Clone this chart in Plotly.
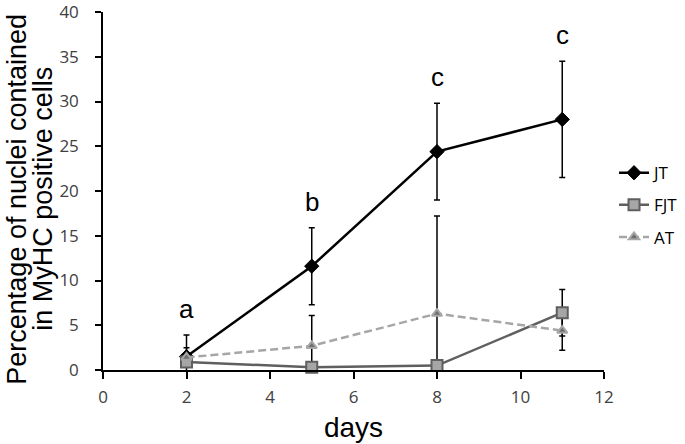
import plotly.graph_objects as go

days = [2, 5, 8, 11]
jt = [1.5, 11.6, 24.4, 28.0]
jt_err = [1.0, 4.3, 5.4, 6.5]
fjt = [0.9, 0.3, 0.5, 6.4]
fjt_err = [0.3, 0.2, 0.3, 2.6]
at = [1.4, 2.7, 6.3, 4.4]
at_err = [2.5, 3.4, 10.9, 2.2]
letters = ["a", "b", "c", "c"]

x_ticks = [0, 2, 4, 6, 8, 10, 12]
y_ticks = [0, 5, 10, 15, 20, 25, 30, 35, 40]

series = [
    dict(name="JT", y=jt, err=jt_err, line=dict(color="#000000", width=2.5),
         marker=dict(symbol="diamond", size=11, color="#000000",
                     line=dict(color="#000000", width=1))),
    dict(name="FJT", y=fjt, err=fjt_err, line=dict(color="#5f5f5f", width=2.5),
         marker=dict(symbol="square", size=11, color="#a6a6a6",
                     line=dict(color="#5f5f5f", width=2))),
    dict(name="AT", y=at, err=at_err, line=dict(color="#a6a6a6", width=2.5, dash="8px,4px"),
         marker=dict(symbol="triangle-up", size=9, color="#6f6f6f",
                     line=dict(color="#a6a6a6", width=2))),
]

fig = go.Figure()

# error bars (clipped to plot area)
for s in series:
    fig.add_trace(go.Scatter(
        x=days, y=s["y"], mode="markers",
        marker=dict(size=1, opacity=0),
        error_y=dict(type="data", array=s["err"], visible=True,
                     color="#000000", thickness=1.5, width=3),
        showlegend=False, hoverinfo="skip", cliponaxis=True,
    ))

for i, s in enumerate(series):
    fig.add_trace(go.Scatter(
        x=days, y=s["y"], mode="lines+markers", name=s["name"],
        line=s["line"], marker=s["marker"], cliponaxis=False,
        legendgroup=s["name"],
    ))

# significance letters above the highest error bar of each day
for i, d in enumerate(days):
    top = max(s["y"][i] + s["err"][i] for s in series)
    fig.add_annotation(x=d, y=top, xref="x", yref="y", text=letters[i],
                       showarrow=False, yanchor="middle", yshift=26,
                       font=dict(family="Liberation Sans", size=26, color="#000000"))

# y-axis title as two rotated lines
fig.add_annotation(x=-0.172, y=0.478, xref="paper", yref="paper",
                   text="Percentage of nuclei contained", textangle=-90,
                   showarrow=False, xanchor="center", yanchor="middle",
                   font=dict(family="Liberation Sans", size=27, color="#000000"))
fig.add_annotation(x=-0.120, y=0.478, xref="paper", yref="paper",
                   text="in MyHC positive cells", textangle=-90,
                   showarrow=False, xanchor="center", yanchor="middle",
                   font=dict(family="Liberation Sans", size=27, color="#000000"))

tickfont = dict(family="Open Sans", size=17, color="#404040")

fig.update_layout(
    width=685, height=444,
    margin=dict(l=103, r=81, t=12, b=74, autoexpand=False),
    paper_bgcolor="white", plot_bgcolor="white",
    showlegend=True,
    legend=dict(x=1.02, y=0.6, xanchor="left", yanchor="top",
                font=dict(family="Open Sans", size=17, color="#000000"),
                tracegroupgap=7, bgcolor="rgba(0,0,0,0)"),
    xaxis=dict(range=[0, 12], tickvals=x_ticks, ticktext=[str(t) for t in x_ticks],
               showgrid=False, zeroline=False, showline=True, linecolor="#000000",
               linewidth=1.5, ticks="outside", ticklen=7, tickwidth=1.5,
               tickcolor="#000000", tickfont=tickfont, ticklabelstandoff=4,
               ticklabeloverflow="allow",
               title=dict(text="days", font=dict(family="Liberation Sans", size=28, color="#000000"),
                          standoff=10)),
    yaxis=dict(range=[0, 40], tickvals=y_ticks, ticktext=[str(t) for t in y_ticks],
               showgrid=False, zeroline=False, showline=True, linecolor="#000000",
               linewidth=1.5, ticks="outside", ticklen=6, tickwidth=1.5,
               tickcolor="#000000", tickfont=tickfont, ticklabelstandoff=13,
               ticklabeloverflow="allow"),
)

fig.write_html("out.html", config={"displayModeBar": False},
               post_script="document.body.style.margin='0';document.body.style.padding='0';")
